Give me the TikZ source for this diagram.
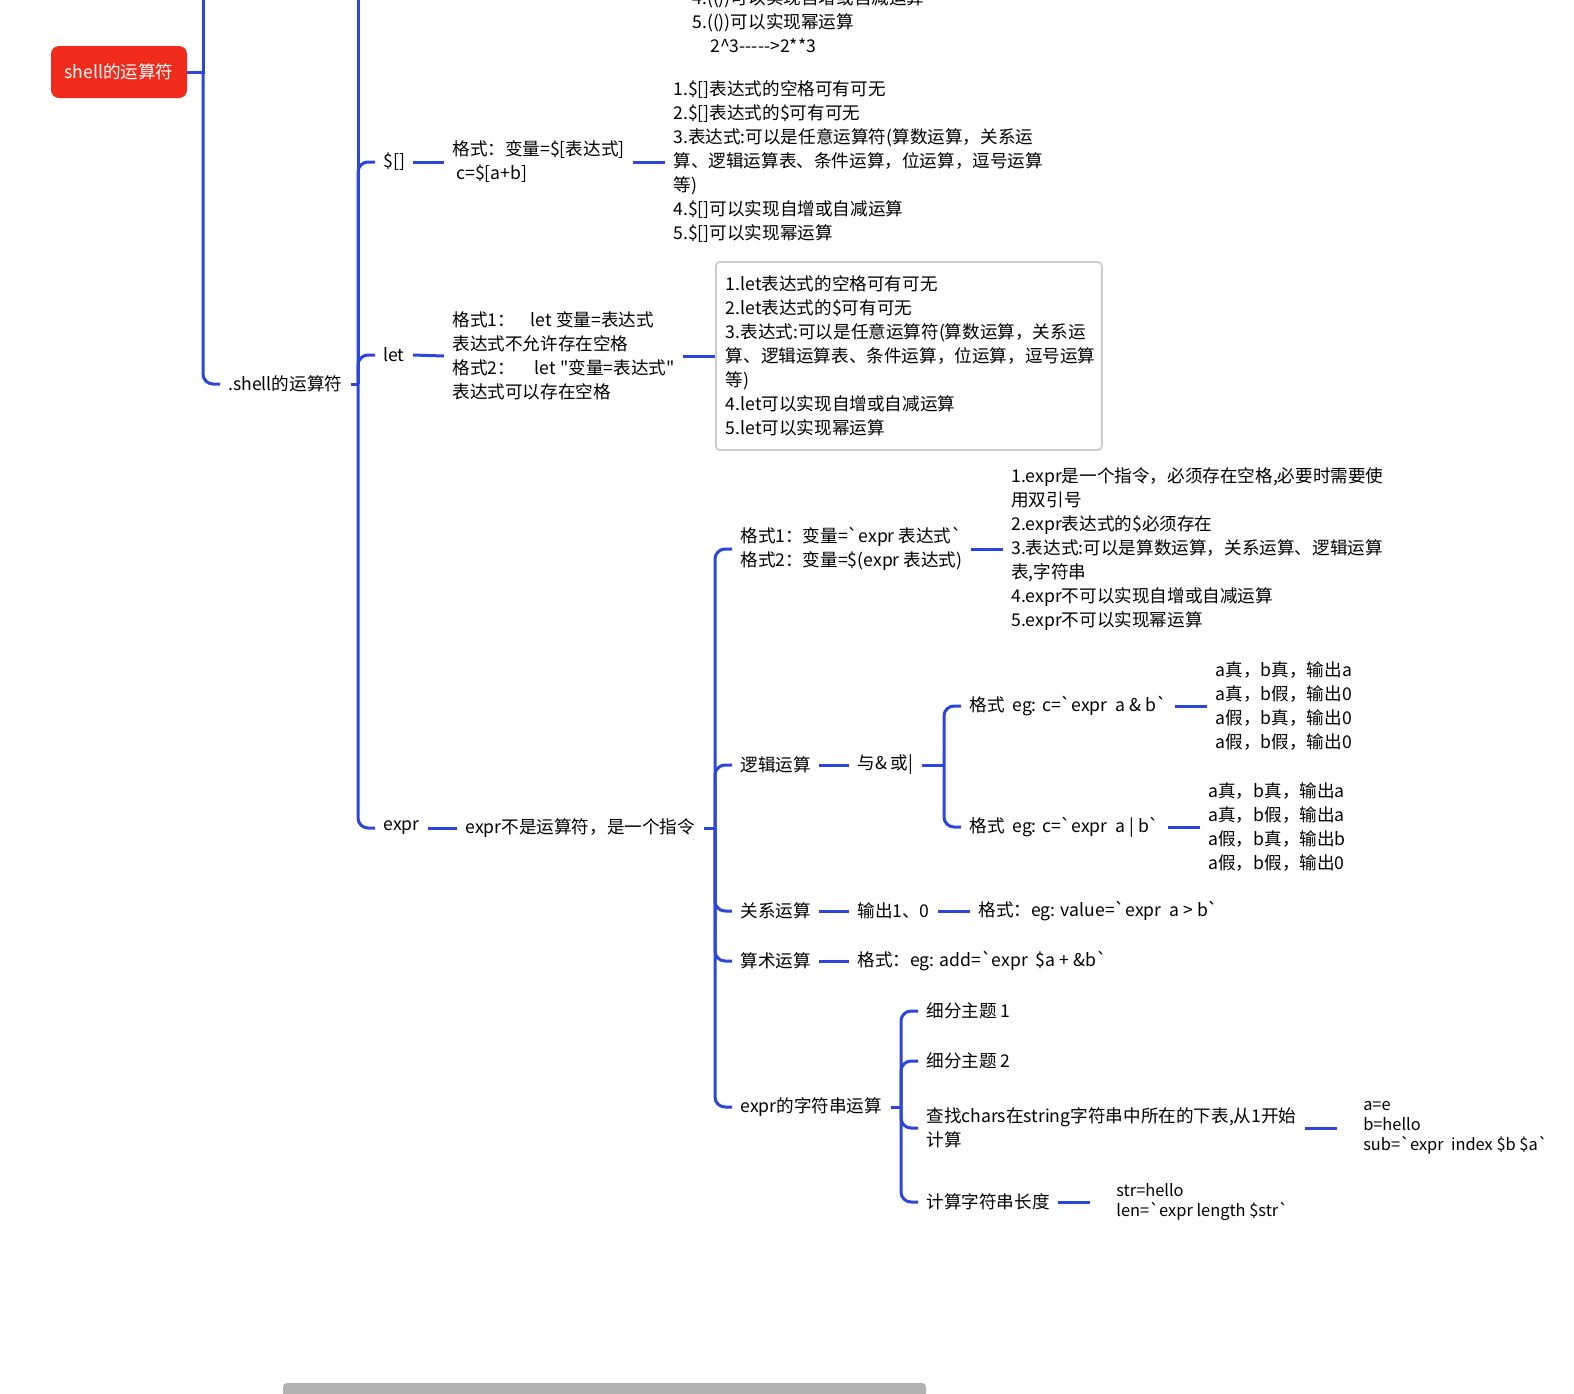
\documentclass[tikz,border=0pt]{standalone}
\usepackage{fontspec}
\usetikzlibrary{positioning}
\newfontfamily\cjk{Noto Sans CJK SC}
\newcommand\bq{\symbol{96}}
\definecolor{linkblue}{RGB}{44,70,220}
\definecolor{rootred}{RGB}{240,43,28}
\definecolor{boxgray}{RGB}{205,205,205}
\definecolor{bargray}{RGB}{178,178,178}
\begin{document}
\begin{tikzpicture}[x=0.5pt,y=-0.5pt,node distance=16pt,
  topic/.style={font=\cjk\fontsize{8.8}{12}\selectfont, inner xsep=4pt, inner ysep=1pt, anchor=west, align=left},
  smallnote/.style={font=\cjk\fontsize{8.2}{10}\selectfont, inner xsep=13pt, inner ysep=1pt, anchor=west, align=left},
  link/.style={draw=linkblue, line width=1.5pt, rounded corners=5pt},
  rootbox/.style={fill=rootred, rounded corners=4pt, text=white, minimum width=68pt, minimum height=26pt, font=\cjk\fontsize{8.8}{12}\selectfont},
  notebox/.style={topic, draw=boxgray, line width=0.9pt, rounded corners=2pt, inner xsep=5pt, text width=183pt, minimum height=94pt}]
\useasboundingbox (0,0) rectangle (1574,1393);
\clip (0,0) rectangle (1574,1393);

\node[rootbox] (root) at (119,72) {shell的运算符};

\begin{scope}[yshift=-1pt]
\node[topic] (topnote) at (684,19) {4.(())可以实现自增或自减运算\\5.(())可以实现幂运算\\\hspace*{9pt}2\textasciicircum3----->2**3};

\node[topic] (shellop) at (220,382) {.shell的运算符};
\node[topic] (dol) at (375,160) {\$[]};
\node[topic] (dolfmt) at (444,160) {格式：变量=\$[表达式]\\\hspace*{2pt}c=\$[a+b]};
\node[topic, right=of dolfmt] (dolnote) {1.\$[]表达式的空格可有可无\\2.\$[]表达式的\$可有可无\\3.表达式:可以是任意运算符(算数运算，关系运\\算、逻辑运算表、条件运算，位运算，逗号运算\\等)\\4.\$[]可以实现自增或自减运算\\5.\$[]可以实现幂运算};
\node[topic] (let) at (375,353) {let};
\node[topic] (letfmt) at (444,354) {格式1：\hspace{8pt}let 变量=表达式\\表达式不允许存在空格\\格式2：\hspace{10pt}let "变量=表达式"\\表达式可以存在空格};
\node[notebox, right=of letfmt] (letnote) {1.let表达式的空格可有可无\\2.let表达式的\$可有可无\\3.表达式:可以是任意运算符(算数运算，关系运\\算、逻辑运算表、条件运算，位运算，逗号运算\\等)\\4.let可以实现自增或自减运算\\5.let可以实现幂运算};
\node[topic] (expr) at (375,826) {expr};
\node[topic] (exprdesc) at (457,826) {expr不是运算符，是一个指令};
\node[topic] (exprfmt) at (732,547) {格式1：变量=\bq expr 表达式\bq\\格式2：变量=\$(expr 表达式)};
\node[topic, right=of exprfmt] (exprnote) {1.expr是一个指令，必须存在空格,必要时需要使\\用双引号\\2.expr表达式的\$必须存在\\3.表达式:可以是算数运算，关系运算、逻辑运算\\表,字符串\\4.expr不可以实现自增或自减运算\\5.expr不可以实现幂运算};
\node[topic] (logic) at (732,763) {逻辑运算};
\node[topic] (andor) at (849,763) {与\& 或|};
\node[topic] (andfmt) at (961,704) {格式\ \ eg: c=\bq expr\ \ a \& b\bq};
\node[topic, right=of andfmt] (andnote) {a真，b真，输出a\\a真，b假，输出0\\a假，b真，输出0\\a假，b假，输出0};
\node[topic] (orfmt) at (961,825) {格式\ \ eg: c=\bq expr\ \ a | b\bq};
\node[topic, right=of orfmt] (ornote) {a真，b真，输出a\\a真，b假，输出a\\a假，b真，输出b\\a假，b假，输出0};
\node[topic] (rel) at (732,909) {关系运算};
\node[topic] (relout) at (849,909) {输出1、0};
\node[topic, right=of relout] (relfmt) {格式：eg: value=\bq expr\ \ a > b\bq};
\node[topic] (arith) at (732,959) {算术运算};
\node[topic] (arithfmt) at (849,959) {格式：eg: add=\bq expr\ \ \$a + \&b\bq};
\node[topic] (strop) at (732,1105) {expr的字符串运算};
\node[topic] (sub1) at (918,1009) {细分主题 1};
\node[topic] (sub2) at (918,1059) {细分主题 2};
\node[topic] (find) at (918,1126) {查找chars在string字符串中所在的下表,从1开始\\计算};
\node[smallnote, right=of find] (findnote) {a=e\\b=hello\\sub=\bq expr\ \ index \$b \$a\bq};
\node[topic] (strlen) at (918,1200) {计算字符串长度};
\node[smallnote, right=of strlen] (strlennote) {str=hello\\len=\bq expr length \$str\bq};

\coordinate (t0) at (203,72);
\coordinate (t0top) at (203,-20);
\coordinate (t1) at (358,382);
\coordinate (t1top) at (358,-20);
\coordinate (t2) at (715,826);
\coordinate (t3) at (944,763);
\coordinate (t4) at (901,1105);
\end{scope}

\draw[link] (root.east) -- (root.east -| t0);
\draw[link] (t0) -- (t0top);
\draw[link] (t0) |- (shellop.west);
\draw[link] (shellop.east) -- (shellop.east -| t1);
\draw[link] (t1) -- (t1top);
\draw[link] (t1) |- (dol.west);
\draw[link] (t1) |- (let.west);
\draw[link] (t1) |- (expr.west);
\draw[link] (dol.east) -- (dolfmt.west);
\draw[link] (dolfmt.east) -- (dolnote.west);
\draw[link] (let.east) -- (letfmt.west);
\draw[link] (letfmt.east) -- (letnote.west);
\draw[link] (expr.east) -- (exprdesc.west);
\draw[link] (exprdesc.east) -- (exprdesc.east -| t2);
\draw[link] (t2) |- (exprfmt.west);
\draw[link] (t2) |- (logic.west);
\draw[link] (t2) |- (rel.west);
\draw[link] (t2) |- (arith.west);
\draw[link] (t2) |- (strop.west);
\draw[link] (exprfmt.east) -- (exprnote.west);
\draw[link] (logic.east) -- (andor.west);
\draw[link] (andor.east) -- (andor.east -| t3);
\draw[link] (t3) |- (andfmt.west);
\draw[link] (t3) |- (orfmt.west);
\draw[link] (andfmt.east) -- (andnote.west);
\draw[link] (orfmt.east) -- (ornote.west);
\draw[link] (rel.east) -- (relout.west);
\draw[link] (relout.east) -- (relfmt.west);
\draw[link] (arith.east) -- (arithfmt.west);
\draw[link] (strop.east) -- (strop.east -| t4);
\draw[link] (t4) |- (sub1.west);
\draw[link] (t4) |- (sub2.west);
\draw[link] (t4) |- (find.west);
\draw[link] (t4) |- (strlen.west);
\draw[link] (find.east) -- (findnote.west);
\draw[link] (strlen.east) -- (strlennote.west);

\fill[bargray, rounded corners=2pt] (283,1383) rectangle (926,1400);
\end{tikzpicture}
\end{document}
